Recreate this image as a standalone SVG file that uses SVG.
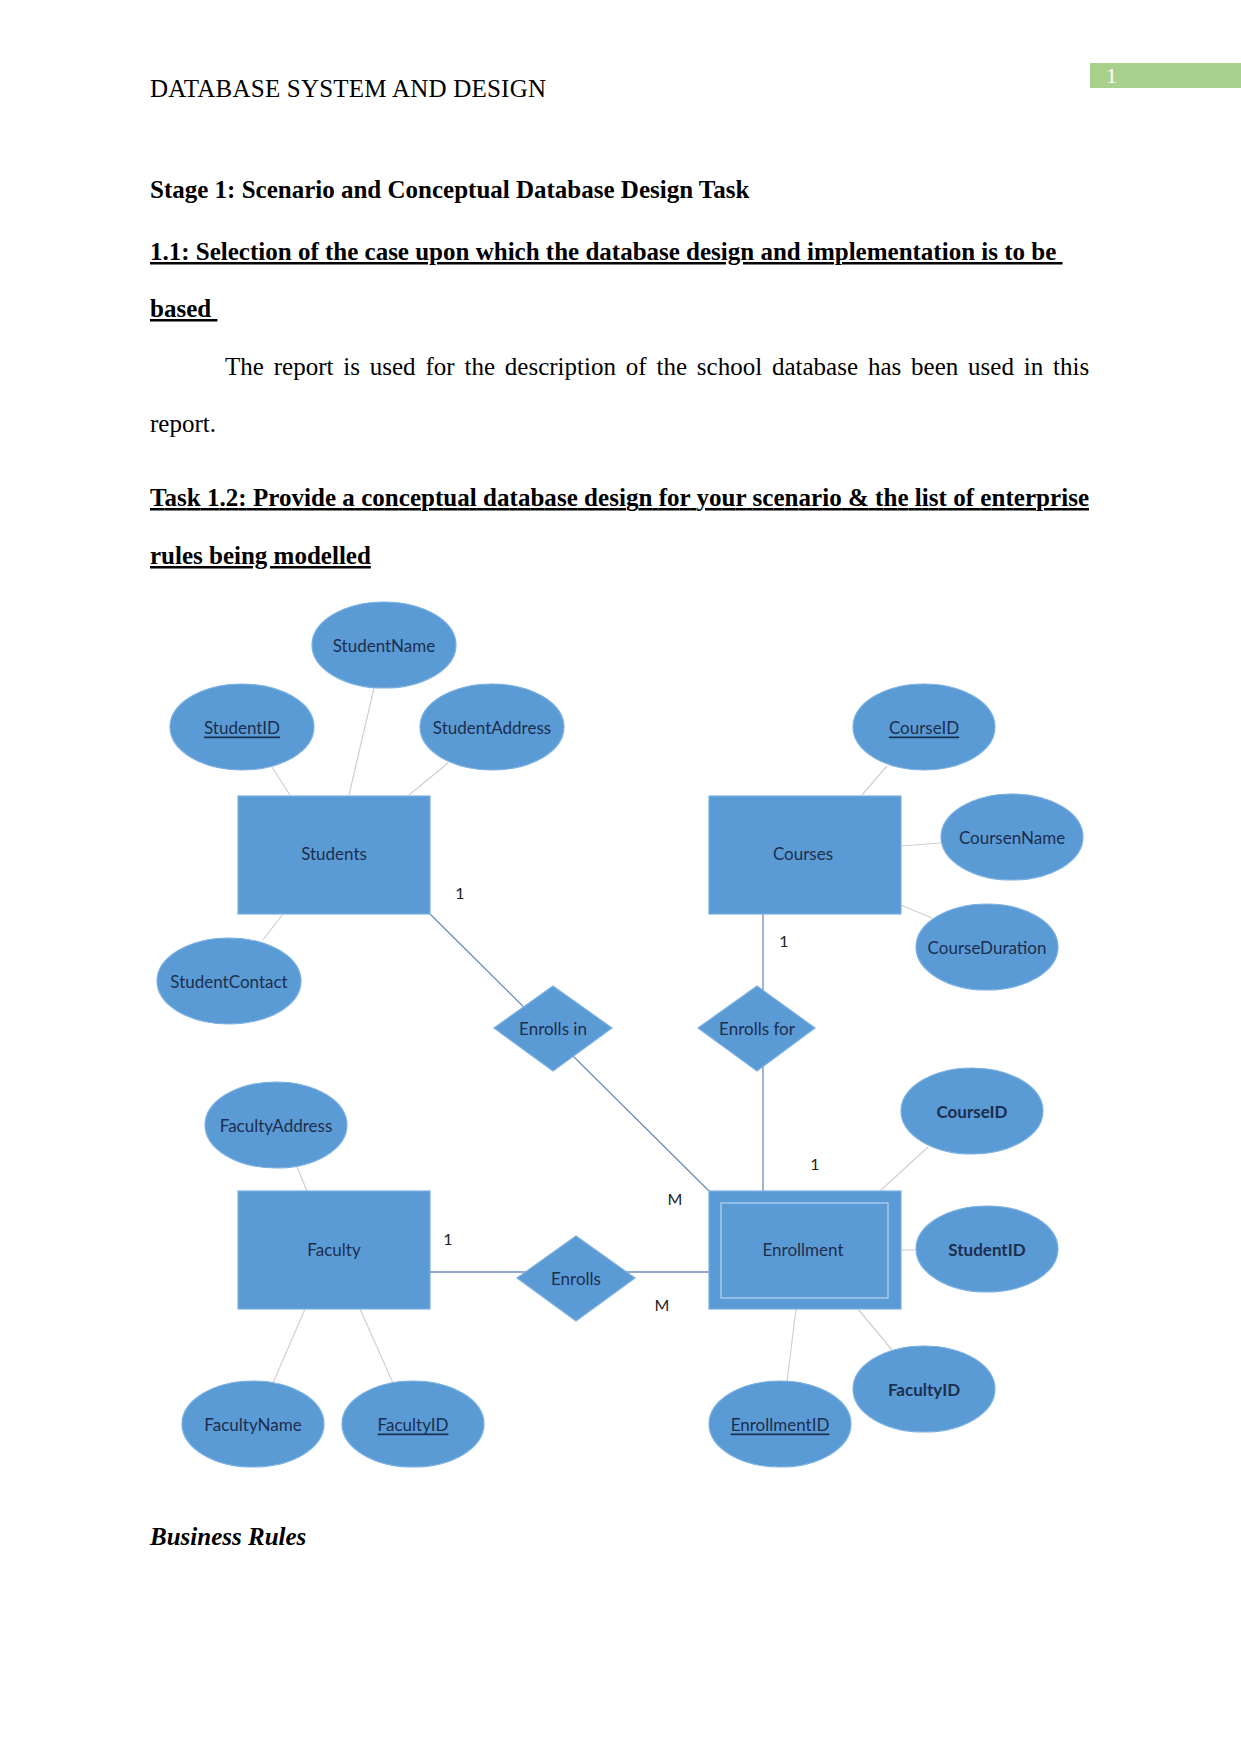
<svg xmlns="http://www.w3.org/2000/svg" width="1241" height="1754" viewBox="0 0 1241 1754">
<style>
.doc{font-family:"Liberation Serif","Times New Roman",serif;font-size:25px;fill:#000}
.b{font-weight:bold}
.u{text-decoration:underline}
.shape{fill:#5B9BD5;stroke:#7AB0E0;stroke-width:1.2}
.inner{fill:none;stroke:#B8D4EE;stroke-width:1.2}
.lbl{font-family:Lato,"Liberation Sans",sans-serif;font-size:17px;fill:#1C2E4F;text-anchor:middle;dominant-baseline:central}
.lb{font-weight:bold}
.al{stroke:#D0D0D0;stroke-width:1.2;fill:none}
.rl{stroke:#6A8DB5;stroke-width:1.3;fill:none}
.card{font-family:Lato,"Liberation Sans",sans-serif;font-size:16px;fill:#222;text-anchor:middle;dominant-baseline:central}
</style>
<rect width="1241" height="1754" fill="#fff"/>
<!-- page header -->
<rect x="1090" y="63" width="151" height="25" fill="#A9D18E"/>
<text x="1106" y="83" class="doc" style="fill:#fff;font-size:22px">1</text>
<text x="150" y="97" class="doc" textLength="396" lengthAdjust="spacing">DATABASE SYSTEM AND DESIGN</text>
<text x="150" y="198" class="doc b">Stage 1: Scenario and Conceptual Database Design Task</text>
<text x="150" y="260" class="doc b u" xml:space="preserve">1.1: Selection of the case upon which the database design and implementation is to be </text>
<text x="150" y="317" class="doc b u" xml:space="preserve">based </text>
<text x="225" y="375" class="doc" word-spacing="3.6">The report is used for the description of the school database has been used in this</text>
<text x="150" y="432" class="doc">report.</text>
<text x="150" y="506" class="doc b u" textLength="939" lengthAdjust="spacing">Task 1.2: Provide a conceptual database design for your scenario &amp; the list of enterprise</text>
<text x="150" y="564" class="doc b u">rules being modelled</text>
<text x="150" y="1545" class="doc b" font-style="italic">Business Rules</text>

<!-- connectors -->
<g id="connectors">
<line class="al" x1="272" y1="767" x2="290" y2="795"/>
<line class="al" x1="374" y1="688" x2="349" y2="795"/>
<line class="al" x1="448" y1="763" x2="409" y2="795"/>
<line class="al" x1="263" y1="940" x2="283" y2="914"/>
<line class="al" x1="887" y1="766" x2="862" y2="795"/>
<line class="al" x1="901" y1="846" x2="941" y2="843"/>
<line class="al" x1="901" y1="905" x2="932" y2="918"/>
<line class="al" x1="928" y1="1147" x2="880" y2="1191"/>
<line class="al" x1="900" y1="1250" x2="915" y2="1250"/>
<line class="al" x1="796" y1="1309" x2="787" y2="1382"/>
<line class="al" x1="858" y1="1309" x2="892" y2="1350"/>
<line class="al" x1="297" y1="1167" x2="307" y2="1191"/>
<line class="al" x1="305" y1="1309" x2="273" y2="1383"/>
<line class="al" x1="360" y1="1309" x2="393" y2="1383"/>
<line class="rl" x1="430" y1="914" x2="709" y2="1191"/>
<line class="rl" x1="763" y1="914" x2="763" y2="1191"/>
<line class="rl" x1="430" y1="1272" x2="709" y2="1272"/>
</g>

<!-- entities -->
<g id="students"><rect class="shape" x="238" y="796" width="192" height="118"/><text class="lbl" x="334" y="853">Students</text></g>
<g id="courses"><rect class="shape" x="709" y="796" width="192" height="118"/><text class="lbl" x="803" y="853">Courses</text></g>
<g id="faculty"><rect class="shape" x="238" y="1191" width="192" height="118"/><text class="lbl" x="334" y="1249">Faculty</text></g>
<g id="enrollment"><rect class="shape" x="709" y="1191" width="192" height="118"/><rect class="inner" x="721" y="1203" width="167" height="95"/><text class="lbl" x="803" y="1249">Enrollment</text></g>

<!-- relationships -->
<g id="enrolls-in"><polygon class="shape" points="553,986 612,1028 553,1071 494,1028"/><text class="lbl" x="553" y="1028">Enrolls in</text></g>
<g id="enrolls-for"><polygon class="shape" points="757,986 815,1028 757,1071 698,1028"/><text class="lbl" x="757" y="1028">Enrolls for</text></g>
<g id="enrolls"><polygon class="shape" points="576,1236 635,1278 576,1321 517,1278"/><text class="lbl" x="576" y="1278">Enrolls</text></g>

<!-- attributes -->
<g id="student-name"><ellipse class="shape" cx="384" cy="645" rx="72" ry="43"/><text class="lbl" x="384" y="645">StudentName</text></g>
<g id="student-id"><ellipse class="shape" cx="242" cy="727" rx="72" ry="43"/><text class="lbl u" x="242" y="727">StudentID</text></g>
<g id="student-address"><ellipse class="shape" cx="492" cy="727" rx="72" ry="43"/><text class="lbl" x="492" y="727">StudentAddress</text></g>
<g id="student-contact"><ellipse class="shape" cx="229" cy="981" rx="72" ry="43"/><text class="lbl" x="229" y="981">StudentContact</text></g>
<g id="course-id"><ellipse class="shape" cx="924" cy="727" rx="71" ry="43"/><text class="lbl u" x="924" y="727">CourseID</text></g>
<g id="coursen-name"><ellipse class="shape" cx="1012" cy="837" rx="71" ry="43"/><text class="lbl" x="1012" y="837">CoursenName</text></g>
<g id="course-duration"><ellipse class="shape" cx="987" cy="947" rx="71" ry="43"/><text class="lbl" x="987" y="947">CourseDuration</text></g>
<g id="enr-course-id"><ellipse class="shape" cx="972" cy="1111" rx="71" ry="43"/><text class="lbl lb" x="972" y="1111">CourseID</text></g>
<g id="enr-student-id"><ellipse class="shape" cx="987" cy="1249" rx="71" ry="43"/><text class="lbl lb" x="987" y="1249">StudentID</text></g>
<g id="enr-faculty-id"><ellipse class="shape" cx="924" cy="1389" rx="71" ry="43"/><text class="lbl lb" x="924" y="1389">FacultyID</text></g>
<g id="enrollment-id"><ellipse class="shape" cx="780" cy="1424" rx="71" ry="43"/><text class="lbl u" x="780" y="1424">EnrollmentID</text></g>
<g id="faculty-address"><ellipse class="shape" cx="276" cy="1125" rx="71" ry="43"/><text class="lbl" x="276" y="1125">FacultyAddress</text></g>
<g id="faculty-name"><ellipse class="shape" cx="253" cy="1424" rx="71" ry="43"/><text class="lbl" x="253" y="1424">FacultyName</text></g>
<g id="faculty-id"><ellipse class="shape" cx="413" cy="1424" rx="71" ry="43"/><text class="lbl u" x="413" y="1424">FacultyID</text></g>

<!-- cardinalities -->
<g id="cardinalities">
<text class="card" x="460" y="892">1</text>
<text class="card" x="784" y="940">1</text>
<text class="card" x="815" y="1163">1</text>
<text class="card" x="675" y="1198">M</text>
<text class="card" x="448" y="1238">1</text>
<text class="card" x="662" y="1304">M</text>
</g>
</svg>
